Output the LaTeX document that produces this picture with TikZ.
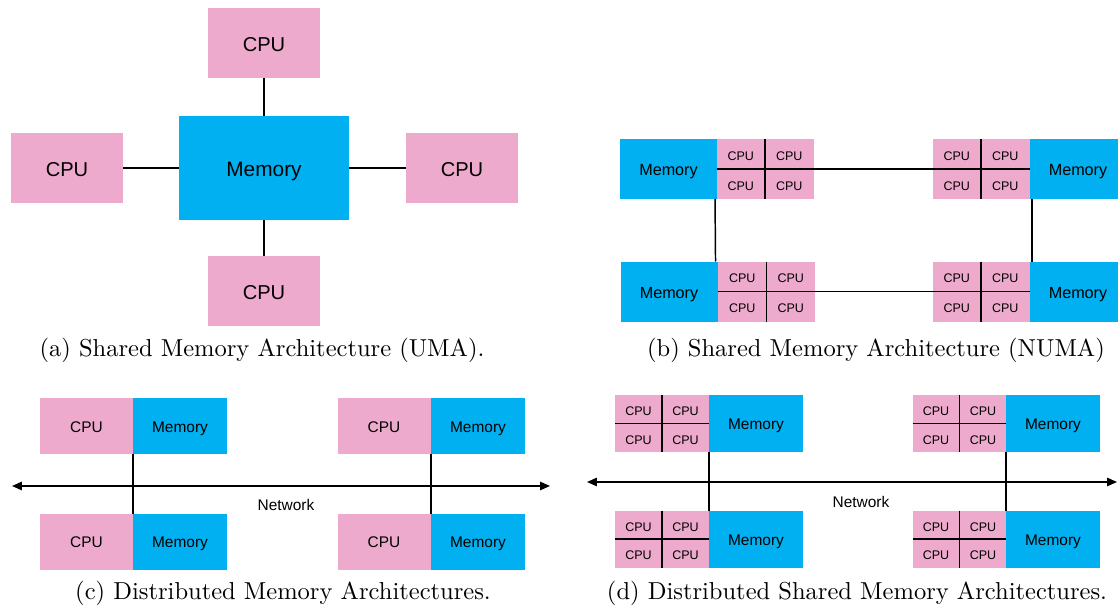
\documentclass[tikz,border=0pt]{standalone}
\usepackage{fontspec}
\newfontfamily\arialf{Liberation Sans}
\usetikzlibrary{arrows.meta,calc}
\definecolor{cpupink}{RGB}{238,170,204}
\definecolor{memblue}{RGB}{0,176,240}
\newcommand{\cpugrid}[4]{%
  \node[#3] (#1) at #2 {};
  \draw[ln] (#1.north) -- (#1.south);
  \draw[ln] (#1.west) -- (#1.east);
  \node[#4] (#1-a) at ($(#1.center)!0.5!(#1.north west)$) {CPU};
  \node[#4] (#1-b) at ($(#1.center)!0.5!(#1.north east)$) {CPU};
  \node[#4] (#1-c) at ($(#1.center)!0.5!(#1.south west)$) {CPU};
  \node[#4] (#1-d) at ($(#1.center)!0.5!(#1.south east)$) {CPU};
}
\begin{document}
\begin{tikzpicture}[x=0.408pt,y=-0.408pt,
  box/.style={inner sep=0pt, outer sep=0pt, draw=none},
  tx/.style={text height=#1, text depth=0pt},
  ln/.style={line width=0.6pt, black},
  net/.style={ln, {Triangle[length=4pt,width=3.4pt]}-{Triangle[length=4pt,width=3.4pt]}},
  cpuA/.style={box, tx=7pt, fill=cpupink, minimum width=112*0.408pt, minimum height=70*0.408pt, font=\arialf\fontsize{8.2}{9}\selectfont},
  memA/.style={box, tx=7pt, fill=memblue, minimum width=170*0.408pt, minimum height=104*0.408pt, font=\arialf\fontsize{8.5}{9}\selectfont},
  memB/.style={box, tx=5.4pt, fill=memblue, minimum width=97*0.408pt, minimum height=60*0.408pt, font=\arialf\fontsize{6.6}{8}\selectfont},
  gridB/.style={box, fill=cpupink, minimum width=97*0.408pt, minimum height=60*0.408pt},
  cpuS/.style={box, tx=5.2pt, font=\arialf\fontsize{5.1}{6}\selectfont},
  cpuC/.style={box, tx=5.2pt, fill=cpupink, minimum width=93*0.408pt, minimum height=56*0.408pt, font=\arialf\fontsize{6.3}{7}\selectfont},
  memC/.style={box, tx=5.2pt, fill=memblue, minimum width=94*0.408pt, minimum height=56*0.408pt, font=\arialf\fontsize{6.3}{7}\selectfont},
  gridD/.style={box, fill=cpupink, minimum width=94*0.408pt, minimum height=57*0.408pt},
  memD/.style={box, tx=5.2pt, fill=memblue, minimum width=94*0.408pt, minimum height=57*0.408pt, font=\arialf\fontsize{6.3}{7}\selectfont},
  lbl/.style={box, font=\arialf\fontsize{6.3}{7}\selectfont},
  captxt/.style={box, font=\normalsize}
]
\useasboundingbox (0,0) rectangle (1118,608);
\clip (0,0) rectangle (1118,608);

% (a) UMA
\node[memA] (am) at (264,168) {Memory};
\node[cpuA] (at) at (264,43) {CPU};
\node[cpuA] (al) at (67,168) {CPU};
\node[cpuA] (ar) at (462,168) {CPU};
\node[cpuA] (ab) at (264,291) {CPU};
\draw[ln] (at) -- (am);
\draw[ln] (al) -- (am);
\draw[ln] (ar) -- (am);
\draw[ln] (ab) -- (am);
\node[captxt] (capa) at (262,350) {(a) Shared Memory Architecture (UMA).};

% (b) NUMA
\node[memB] (bm1) at (668.5,169) {Memory};
\cpugrid{bg1}{(765,169)}{gridB}{cpuS}
\cpugrid{bg2}{(981,169)}{gridB}{cpuS}
\node[memB] (bm2) at (1078,169) {Memory};
\node[memB] (bm3) at (669,291.5) {Memory};
\cpugrid{bg3}{(766.5,291.5)}{gridB}{cpuS}
\cpugrid{bg4}{(981,291.5)}{gridB}{cpuS}
\node[memB] (bm4) at (1078,291.5) {Memory};
\draw[ln] (bg1.east) -- (bg2.west);
\draw[ln] (bg3.east) -- (bg4.west);
\draw[ln] ([xshift=-0.8pt]bm1.south east) -- ([xshift=-0.8pt]bm3.north east);
\draw[ln] ([xshift=1pt]bm2.south west) -- ([xshift=1pt]bm4.north west);
\node[captxt] (capb) at (876,350) {(b) Shared Memory Architecture (NUMA)};

% (c) Distributed memory
\node[cpuC] (c1) at (86.5,426) {CPU};
\node[memC] (cm1) at (180,426) {Memory};
\node[cpuC] (c2) at (384,426) {CPU};
\node[memC] (cm2) at (478,426) {Memory};
\node[cpuC] (c3) at (86.5,541.5) {CPU};
\node[memC] (cm3) at (180,541.5) {Memory};
\node[cpuC] (c4) at (384,541.5) {CPU};
\node[memC] (cm4) at (478,541.5) {Memory};
\coordinate (cl) at (12,486);
\coordinate (cr) at (550,486);
\draw[net] (cl) -- (cr);
\draw[ln] (cm1.south west) -- (cm3.north west);
\draw[ln] (cm2.south west) -- (cm4.north west);
\node[lbl] (cnet) at (286,505) {Network};
\node[captxt] (capc) at (283,593) {(c) Distributed Memory Architectures.};

% (d) Distributed shared memory
\cpugrid{dg1}{(662,423.5)}{gridD}{cpuS}
\node[memD] (dm1) at (756,423.5) {Memory};
\cpugrid{dg2}{(959.5,423.5)}{gridD}{cpuS}
\node[memD] (dm2) at (1053,423.5) {Memory};
\cpugrid{dg3}{(662,539)}{gridD}{cpuS}
\node[memD] (dm3) at (756,539) {Memory};
\cpugrid{dg4}{(959.5,539)}{gridD}{cpuS}
\node[memD] (dm4) at (1053,539) {Memory};
\coordinate (dl) at (587,482);
\coordinate (dr) at (1117,482);
\draw[net] (dl) -- (dr);
\draw[ln] (dm1.south west) -- (dm3.north west);
\draw[ln] (dm2.south west) -- (dm4.north west);
\node[lbl] (dnet) at (861,502) {Network};
\node[captxt] (capd) at (857,593) {(d) Distributed Shared Memory Architectures.};
\end{tikzpicture}
\end{document}
